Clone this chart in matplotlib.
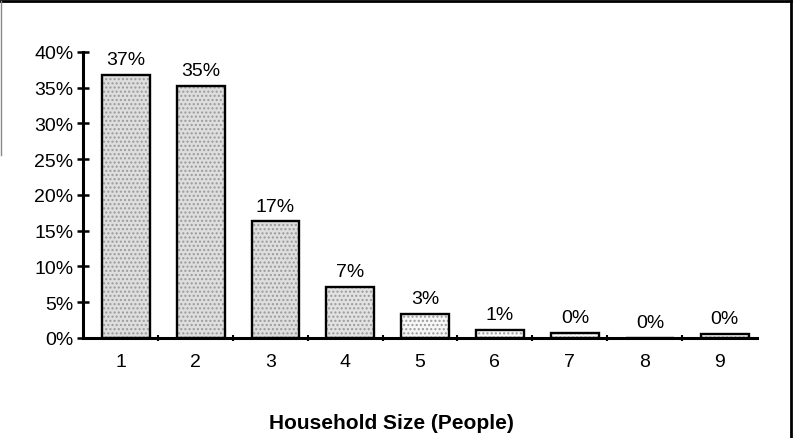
import matplotlib
matplotlib.use("Agg")
import matplotlib.pyplot as plt
from matplotlib.lines import Line2D

categories = ["1", "2", "3", "4", "5", "6", "7", "8", "9"]
values = [36.8, 35.2, 16.3, 7.1, 3.3, 1.1, 0.7, 0.0, 0.5]
labels = ["37%", "35%", "17%", "7%", "3%", "1%", "0%", "0%", "0%"]
yticks = [0, 5, 10, 15, 20, 25, 30, 35, 40]
ytick_labels = ["0%", "5%", "10%", "15%", "20%", "25%", "30%", "35%", "40%"]
fills = ["#dedede", "#dedede", "#dedede", "#e2e2e2", "#f6f6f6", "#fafafa", "#fafafa", "#fafafa", "#fafafa"]

plt.rcParams["font.family"] = ["Liberation Sans", "DejaVu Sans"]

fig = plt.figure(figsize=(7.99, 4.39), dpi=100)
ax = fig.add_axes([0.1039, 0.2278, 0.8435, 0.6515])

x = list(range(1, len(categories) + 1))
xpos = [v + 0.07 for v in x]
ax.bar(xpos, values, width=0.64, color=fills, edgecolor="#9a9a9a", hatch="....", linewidth=0, zorder=2)
ax.bar(xpos, values, width=0.64, fill=False, edgecolor="black", linewidth=1.7, zorder=3)

for xp, v, lab in zip(xpos, values, labels):
    ax.annotate(lab, (xp, v), xytext=(0, 5), textcoords="offset points",
                ha="center", va="bottom", fontsize=14)

ax.set_xlim(0.5, 9.5)
ax.set_ylim(0, 40)
ax.set_yticks(yticks)
ax.set_yticklabels(ytick_labels, fontsize=14)
ax.set_xticks(x)
ax.set_xticklabels(categories, fontsize=14)
ax.set_xticks([v + 0.5 for v in x[:-1]], minor=True)
ax.tick_params(axis="x", which="major", length=0, pad=11)
ax.tick_params(axis="x", which="minor", direction="inout", length=4, width=1.5)
ax.tick_params(axis="y", direction="inout", length=8, width=1.8, pad=3)

for s in ["top", "right"]:
    ax.spines[s].set_visible(False)
for s in ["left", "bottom"]:
    ax.spines[s].set_linewidth(2.2)

ax.set_xlabel("Household Size (People)", fontsize=15, fontweight="bold", labelpad=31, x=0.458)

# page frame from the scan
fig.add_artist(Line2D([0, 0.99], [0.995, 0.995], transform=fig.transFigure, color="black", lw=2))
fig.add_artist(Line2D([0.990, 0.990], [0.0, 0.995], transform=fig.transFigure, color="black", lw=2))
fig.add_artist(Line2D([0.001, 0.001], [0.645, 0.995], transform=fig.transFigure, color="#888888", lw=1))

fig.savefig("out.png", dpi=100)
